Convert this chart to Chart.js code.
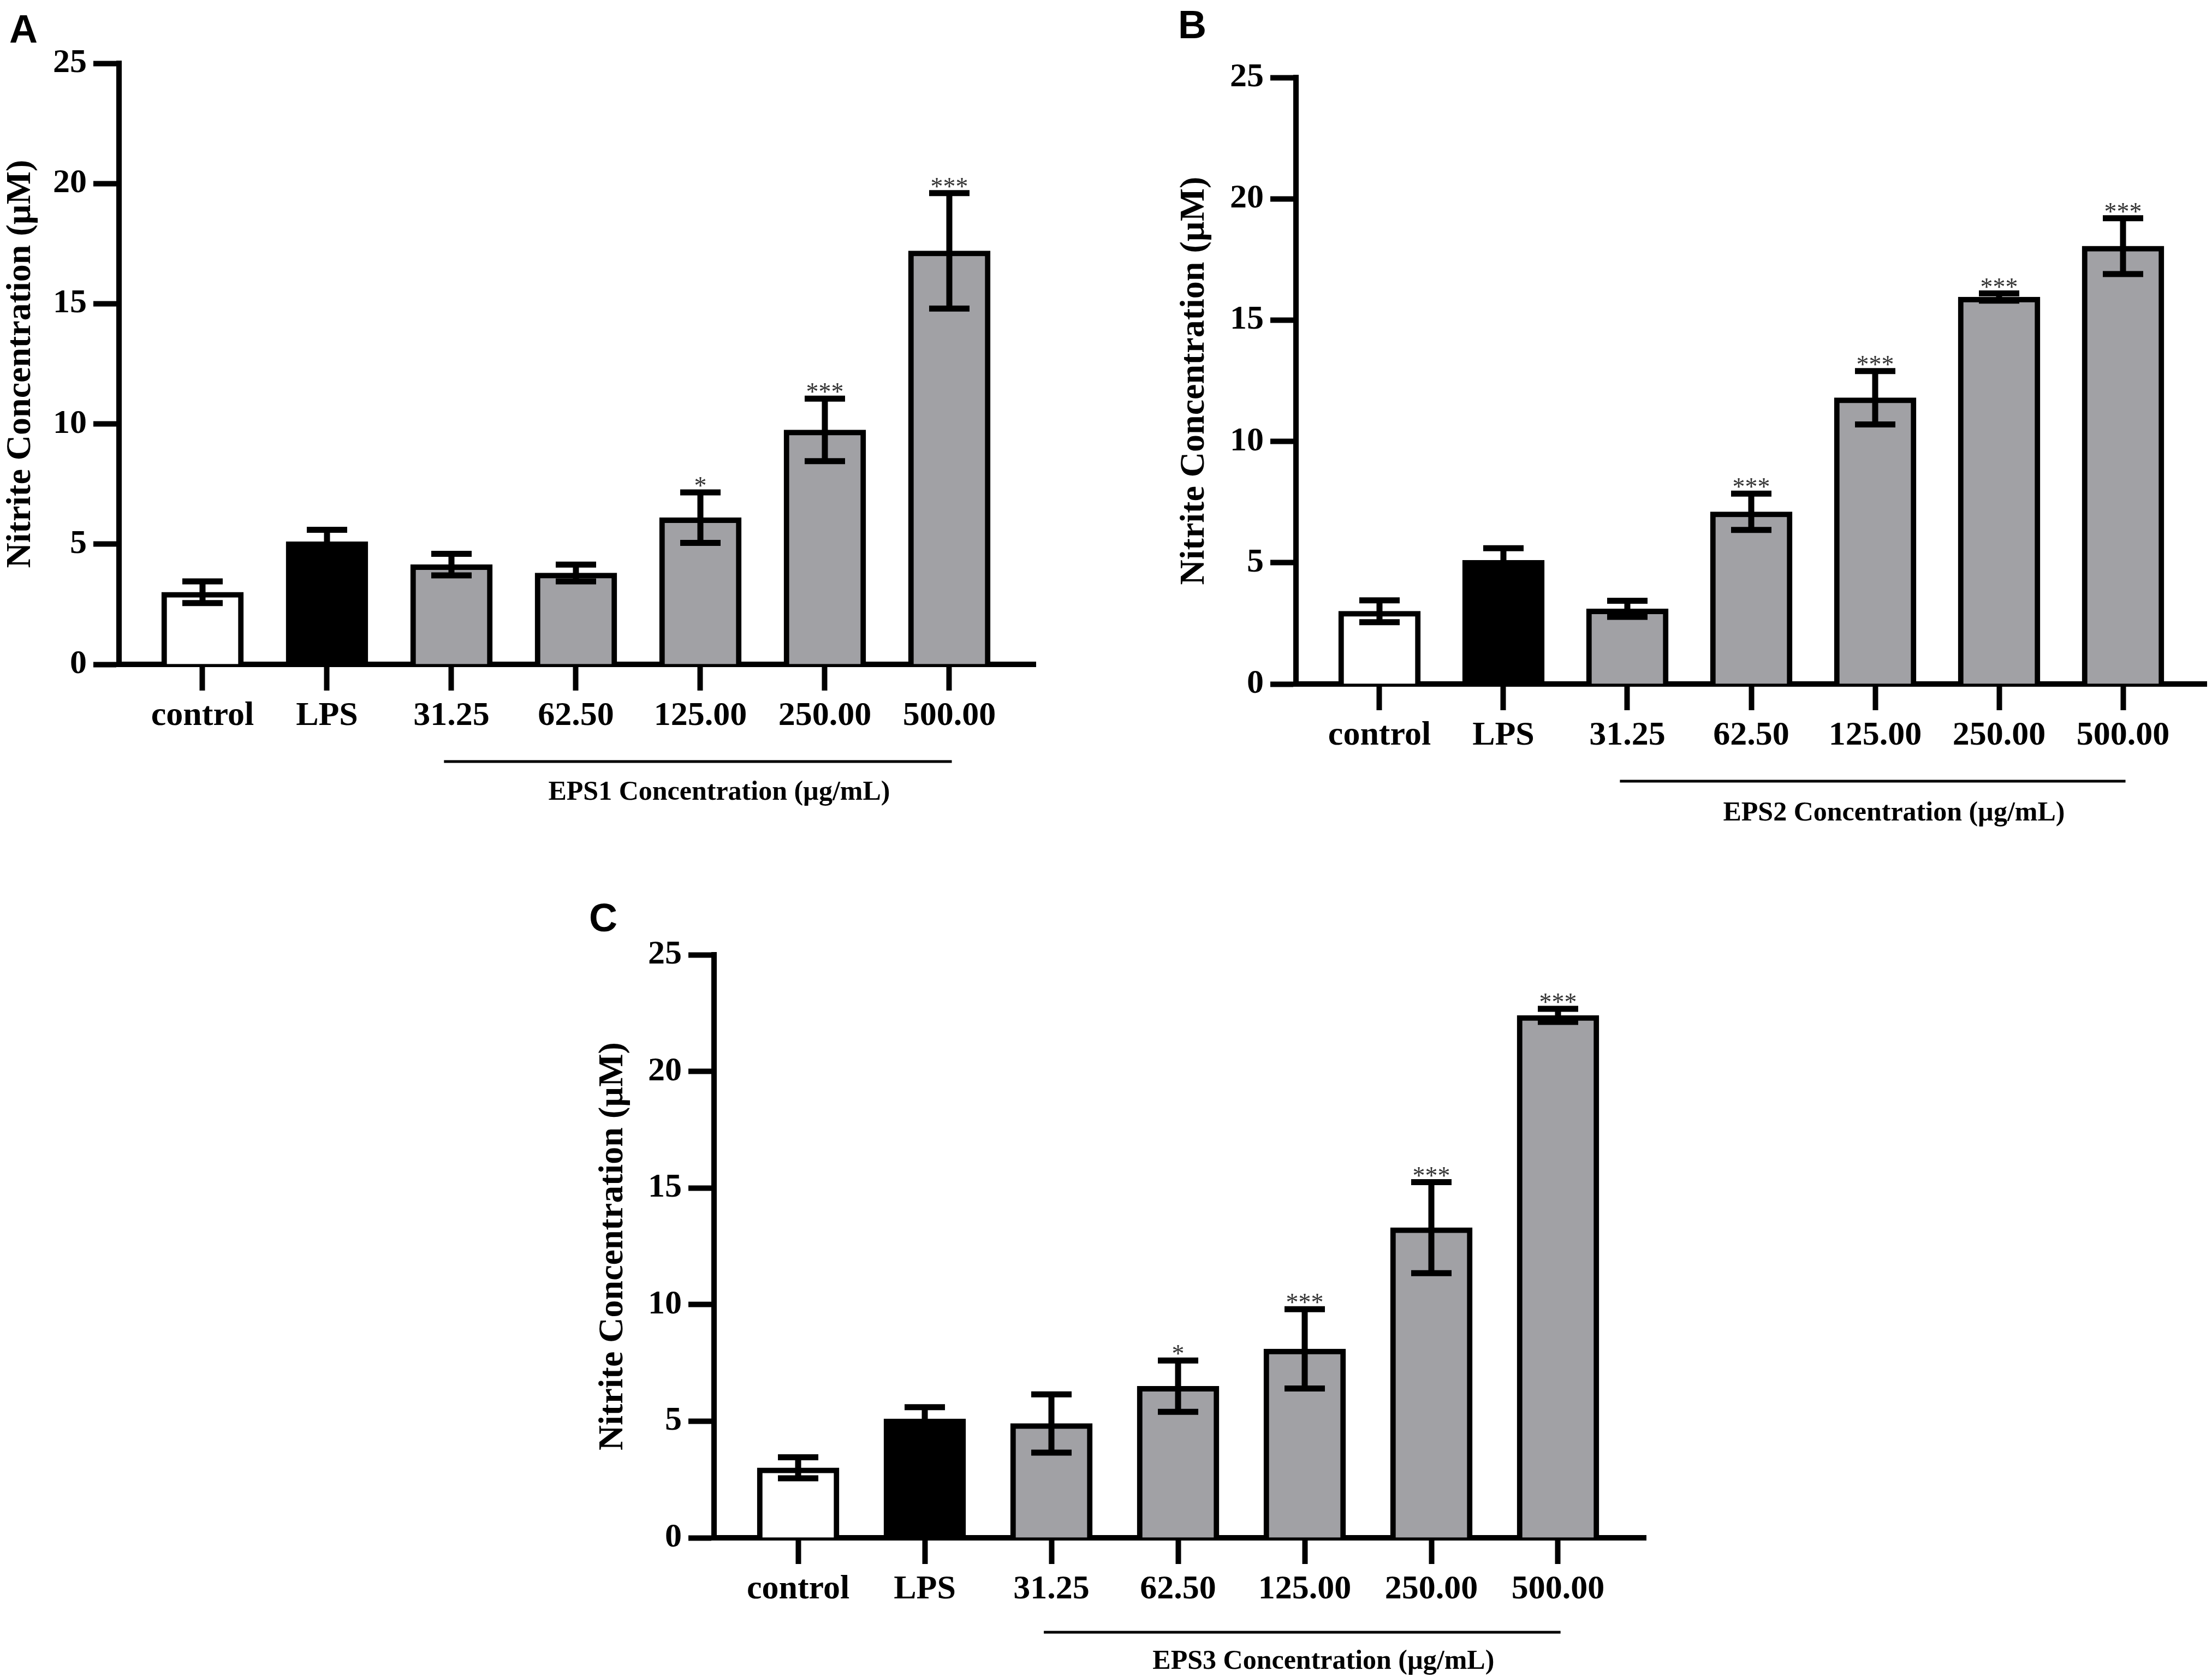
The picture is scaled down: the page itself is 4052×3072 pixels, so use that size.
<!DOCTYPE html>
<html>
<head>
<meta charset="utf-8">
<title>Nitrite concentration - EPS1/EPS2/EPS3</title>
<script src="https://cdn.jsdelivr.net/npm/chart.js@4.4.1/dist/chart.umd.min.js"></script>
<style>
  html, body { margin: 0; padding: 0; background: #ffffff; }
  body { position: relative; width: 4052px; height: 3072px; overflow: hidden; }
  canvas { position: absolute; }
  .panel-letter {
    position: absolute;
    font-family: "Liberation Sans", Arial, sans-serif;
    font-weight: bold;
    font-size: 72px;
    line-height: 1;
    color: #000;
  }
</style>
</head>
<body>
<div class="panel-letter" style="left:17px;top:17px">A</div>
<div class="panel-letter" style="left:2158px;top:9px">B</div>
<div class="panel-letter" style="left:1079px;top:1645px">C</div>
<canvas id="chartA"></canvas>
<canvas id="chartB"></canvas>
<canvas id="chartC"></canvas>
<script>
/* ---------- data ---------- */
const CATEGORIES = ["control", "LPS", "31.25", "62.50", "125.00", "250.00", "500.00"];

const EPS1_MEAN = [3.0, 5.1, 4.15, 3.8, 6.1, 9.75, 17.2];
const EPS1_ERR  = [0.45, 0.5, 0.45, 0.35, 1.05, 1.3, 2.4];
const EPS1_SIG  = ["", "", "", "", "*", "***", "***"];

const EPS2_MEAN = [3.0, 5.1, 3.1, 7.1, 11.8, 15.95, 18.05];
const EPS2_ERR  = [0.45, 0.5, 0.33, 0.75, 1.1, 0.15, 1.15];
const EPS2_SIG  = ["", "", "", "***", "***", "***", "***"];

const EPS3_MEAN = [3.0, 5.1, 4.9, 6.5, 8.1, 13.3, 22.4];
const EPS3_ERR  = [0.45, 0.5, 1.25, 1.1, 1.7, 1.95, 0.28];
const EPS3_SIG  = ["", "", "", "*", "***", "***", "***"];

const Y_MIN = 0;
const Y_MAX = 25;
const Y_STEP = 5;

const Y_TITLE = "Nitrite Concentration (\u00b5M)";
const GROUP_TITLES = ["EPS1 Concentration (\u00b5g/mL)", "EPS2 Concentration (\u00b5g/mL)", "EPS3 Concentration (\u00b5g/mL)"];

/* ---------- styles ---------- */
const BAR_COLORS = ["#ffffff", "#000000", "#a1a1a5", "#a1a1a5", "#a1a1a5", "#a1a1a5", "#a1a1a5"];
const SERIF = "'Liberation Serif', 'Times New Roman', serif";
const LINE = 10;

// where each panel sits on the page (canvas box, axis pixel positions)
const PANELS = [
  { id: "chartA", left: 0, top: 0, width: 2000, height: 1560, axisX: 218, yTop: 116, yZero: 1217, xEnd: 1897,
    xMin: -0.671, xMax: 6.693, groupLine: 178, groupText: 248 },
  { id: "chartB", left: 2150, top: 0, width: 1902, height: 1560, axisX: 2374, yTop: 142, yZero: 1253, xEnd: 4042,
    xMin: -0.674, xMax: 6.674, groupLine: 178, groupText: 250 },
  { id: "chartC", left: 1085, top: 1640, width: 2015, height: 1432, axisX: 1308, yTop: 1749, yZero: 2817, xEnd: 3015,
    xMin: -0.664, xMax: 6.694, groupLine: 173, groupText: 240 },
];

/* ---------- plugins ---------- */
const errorBarPlugin = {
  id: "errorBars",
  afterDatasetsDraw(chart, args, opts) {
    const { ctx } = chart;
    const y = chart.scales.y;
    const meta = chart.getDatasetMeta(0);
    ctx.save();
    ctx.strokeStyle = "#000";
    ctx.lineWidth = 11;
    ctx.lineCap = "butt";
    meta.data.forEach((bar, i) => {
      const top = y.getPixelForValue(opts.mean[i] + opts.err[i]);
      const bottom = y.getPixelForValue(opts.mean[i] - opts.err[i]);
      const half = 37;
      ctx.beginPath();
      ctx.moveTo(bar.x, top);
      ctx.lineTo(bar.x, bottom);
      ctx.moveTo(bar.x - half, top);
      ctx.lineTo(bar.x + half, top);
      ctx.moveTo(bar.x - half, bottom);
      ctx.lineTo(bar.x + half, bottom);
      ctx.stroke();
      if (opts.sig[i]) {
        ctx.fillStyle = "#333";
        ctx.font = `46px ${SERIF}`;
        ctx.textAlign = "center";
        ctx.textBaseline = "alphabetic";
        ctx.fillText(opts.sig[i], bar.x, top + 3);
      }
    });
    ctx.restore();
  },
};

const groupLabelPlugin = {
  id: "groupLabel",
  afterDraw(chart, args, opts) {
    const { ctx } = chart;
    const x = chart.scales.x;
    const base = chart.chartArea.bottom;
    const x1 = x.getPixelForValue(2 - 0.06);
    const x2 = x.getPixelForValue(6 + 0.02);
    ctx.save();
    ctx.strokeStyle = "#000";
    ctx.lineWidth = 5;
    ctx.beginPath();
    ctx.moveTo(x1, base + opts.lineOffset);
    ctx.lineTo(x2, base + opts.lineOffset);
    ctx.stroke();
    ctx.fillStyle = "#000";
    ctx.font = `bold 50px ${SERIF}`;
    ctx.textAlign = "center";
    ctx.textBaseline = "alphabetic";
    ctx.fillText(opts.text, (x1 + x2) / 2 + 39, base + opts.textOffset);
    ctx.restore();
  },
};

/* ---------- build ---------- */
function buildPanel(panel, means, errs, sig, groupTitle) {
  const canvas = document.getElementById(panel.id);
  canvas.width = panel.width;
  canvas.height = panel.height;
  canvas.style.left = panel.left + "px";
  canvas.style.top = panel.top + "px";
  canvas.style.width = panel.width + "px";
  canvas.style.height = panel.height + "px";

  const yAxisWidth = panel.axisX - panel.left;
  const xAxisHeight = panel.top + panel.height - panel.yZero;

  return new Chart(canvas, {
    type: "bar",
    data: {
      datasets: [{
        data: means.map((value, index) => ({ x: index, y: value })),
        backgroundColor: BAR_COLORS,
        borderColor: "#000",
        borderWidth: LINE,
        borderSkipped: "bottom",
        barThickness: 150,
      }],
    },
    options: {
      responsive: false,
      animation: false,
      devicePixelRatio: 1,
      layout: { padding: { left: 0, top: panel.yTop - panel.top, right: panel.left + panel.width - panel.xEnd, bottom: 0 } },
      plugins: {
        legend: { display: false },
        tooltip: { enabled: false },
        errorBars: { mean: means, err: errs, sig },
        groupLabel: { text: groupTitle, lineOffset: panel.groupLine, textOffset: panel.groupText },
      },
      scales: {
        x: {
          type: "linear",
          min: panel.xMin,
          max: panel.xMax,
          offset: false,
          afterFit(scale) { scale.height = xAxisHeight; scale.paddingLeft = 0; scale.paddingRight = 0; },
          border: { display: true, color: "#000", width: LINE },
          grid: { offset: false, drawOnChartArea: false, drawTicks: true, tickLength: 48, tickWidth: LINE, tickColor: "#000" },
          ticks: {
            stepSize: 1,
            includeBounds: false,
            autoSkip: false,
            maxRotation: 0,
            padding: 10,
            color: "#000",
            font: { family: SERIF, weight: "bold", size: 62 },
            callback: (value) => CATEGORIES[value] ?? "",
          },
        },
        y: {
          min: Y_MIN,
          max: Y_MAX,
          afterFit(scale) { scale.width = yAxisWidth; scale.paddingTop = 0; scale.paddingBottom = 0; },
          border: { display: true, color: "#000", width: LINE },
          grid: { drawOnChartArea: false, drawTicks: true, tickLength: 47, tickWidth: LINE, tickColor: "#000" },
          ticks: {
            stepSize: Y_STEP,
            padding: 12,
            color: "#000",
            font: { family: SERIF, weight: "bold", size: 62 },
          },
          title: {
            display: true,
            text: Y_TITLE,
            color: "#000",
            padding: 0,
            font: { family: SERIF, weight: "bold", size: 64 },
          },
        },
      },
    },
    plugins: [errorBarPlugin, groupLabelPlugin],
  });
}

buildPanel(PANELS[0], EPS1_MEAN, EPS1_ERR, EPS1_SIG, GROUP_TITLES[0]);
buildPanel(PANELS[1], EPS2_MEAN, EPS2_ERR, EPS2_SIG, GROUP_TITLES[1]);
buildPanel(PANELS[2], EPS3_MEAN, EPS3_ERR, EPS3_SIG, GROUP_TITLES[2]);
</script>
</body>
</html>
